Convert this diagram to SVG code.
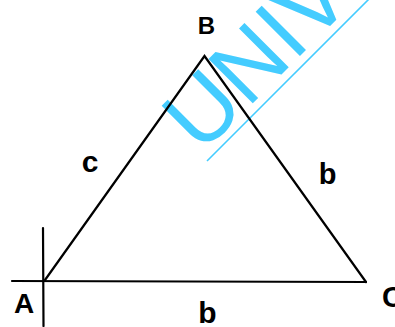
<svg xmlns="http://www.w3.org/2000/svg" width="395" height="327" viewBox="0 0 395 327">
<style>
.ln{stroke:#000;stroke-width:2.2;fill:none;stroke-linecap:round;stroke-linejoin:miter}
.lb{font-family:"Liberation Sans",Arial,sans-serif;font-weight:bold;fill:#000;text-anchor:middle}
.wm{font-family:"Liberation Sans",Arial,sans-serif;fill:#44CCFF}
</style>
<rect width="395" height="327" fill="#fff"/>
<g id="watermark">
<text class="wm" x="201" y="155" font-size="91" transform="rotate(-45 201 155)">UNIV</text>
<line x1="207" y1="161" x2="369" y2="-1" stroke="#44CCFF" stroke-width="1.6"/>
</g>
<g id="connectors">
<path class="ln" d="M45,280 L204.5,56 L366,282"/>
<line class="ln" x1="12" y1="281" x2="366" y2="282"/>
<line class="ln" x1="43" y1="228" x2="43.5" y2="326"/>
</g>
<g id="node-A"><text class="lb" x="24" y="313" font-size="28">A</text></g>
<g id="node-B"><text class="lb" x="206.5" y="34" font-size="24">B</text></g>
<g id="node-C"><text class="lb" x="392.5" y="307" font-size="29">C</text></g>
<g id="label-c"><text class="lb" x="90" y="172" font-size="30">c</text></g>
<g id="label-b-right"><text class="lb" x="327.5" y="184" font-size="29">b</text></g>
<g id="label-b-bottom"><text class="lb" x="207.5" y="323" font-size="30">b</text></g>
</svg>
